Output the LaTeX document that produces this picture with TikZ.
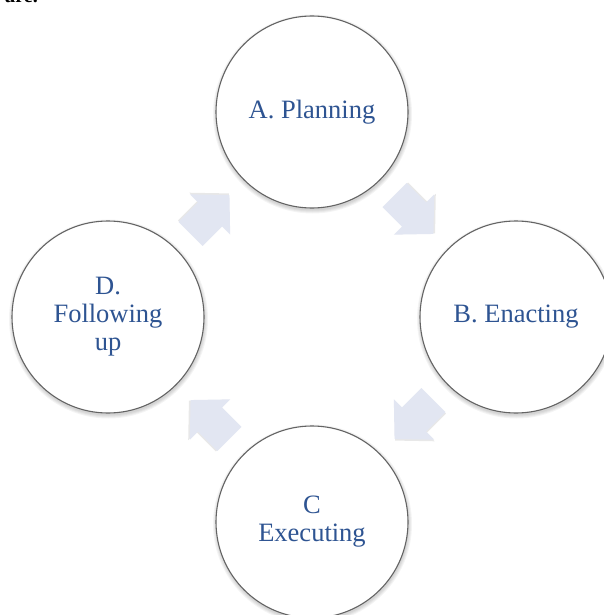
\documentclass[tikz,border=0pt]{standalone}
\usepackage{fontspec}
\setmainfont{Liberation Serif}
\usetikzlibrary{calc}
\definecolor{txtblue}{RGB}{46,84,146}
\definecolor{ringgray}{RGB}{100,100,100}
\definecolor{arrowfill}{RGB}{226,230,242}
\tikzset{
  bubble/.style={circle, minimum size=192pt, inner sep=0pt, draw=ringgray, line width=1.1pt,
    fill=white, text=txtblue, align=center, font=\fontsize{26.5}{28}\selectfont},
  blockarrow/.pic={
    \fill[black, opacity=.09] (-27.5+0.8,-17-1.5) -- (0.8,-17-1.5) -- (0.8,-28.5-1.5) -- (27.5+0.8,-1.5) -- (0.8,28.5-1.5) -- (0.8,17-1.5) -- (-27.5+0.8,17-1.5) -- cycle;
    \fill[arrowfill] (-27.5,-17) -- (0,-17) -- (0,-28.5) -- (27.5,0) -- (0,28.5) -- (0,17) -- (-27.5,17) -- cycle;
  }
}
\begin{document}
\begin{tikzpicture}[x=1pt,y=-1pt]
\clip (0,0) rectangle (604,615);
\fill[white] (0,0) rectangle (604,615);
\node[anchor=base east, inner sep=0pt, font=\bfseries\fontsize{20}{20}\selectfont] (cap) at (38,3) {ure.};
\coordinate (pA) at (312,112);
\coordinate (pB) at (516,317);
\coordinate (pC) at (312,522);
\coordinate (pD) at (108,317);
\foreach \p in {pA,pB,pC,pD}{
  \foreach \r in {96.5,97.5,98.5,99.5}{
    \fill[black, opacity=.045] ($(\p)+(0.5,2)$) circle (\r);
  }
}
\node[bubble] (A) at (pA) {A. Planning};
\node[bubble] (B) at (pB) {B. Enacting};
\node[bubble] (C) at (pC) {C\\Executing};
\node[bubble] (D) at (pD) {D.\\Following\\up};
\pic[rotate=-45] at ($(A)!0.5!(B)$) {blockarrow};
\pic[rotate=-135] at ($(B)!0.5!(C)$) {blockarrow};
\pic[rotate=135] at ($(C)!0.5!(D)$) {blockarrow};
\pic[rotate=45] at ($(D)!0.5!(A)$) {blockarrow};
\end{tikzpicture}
\end{document}
